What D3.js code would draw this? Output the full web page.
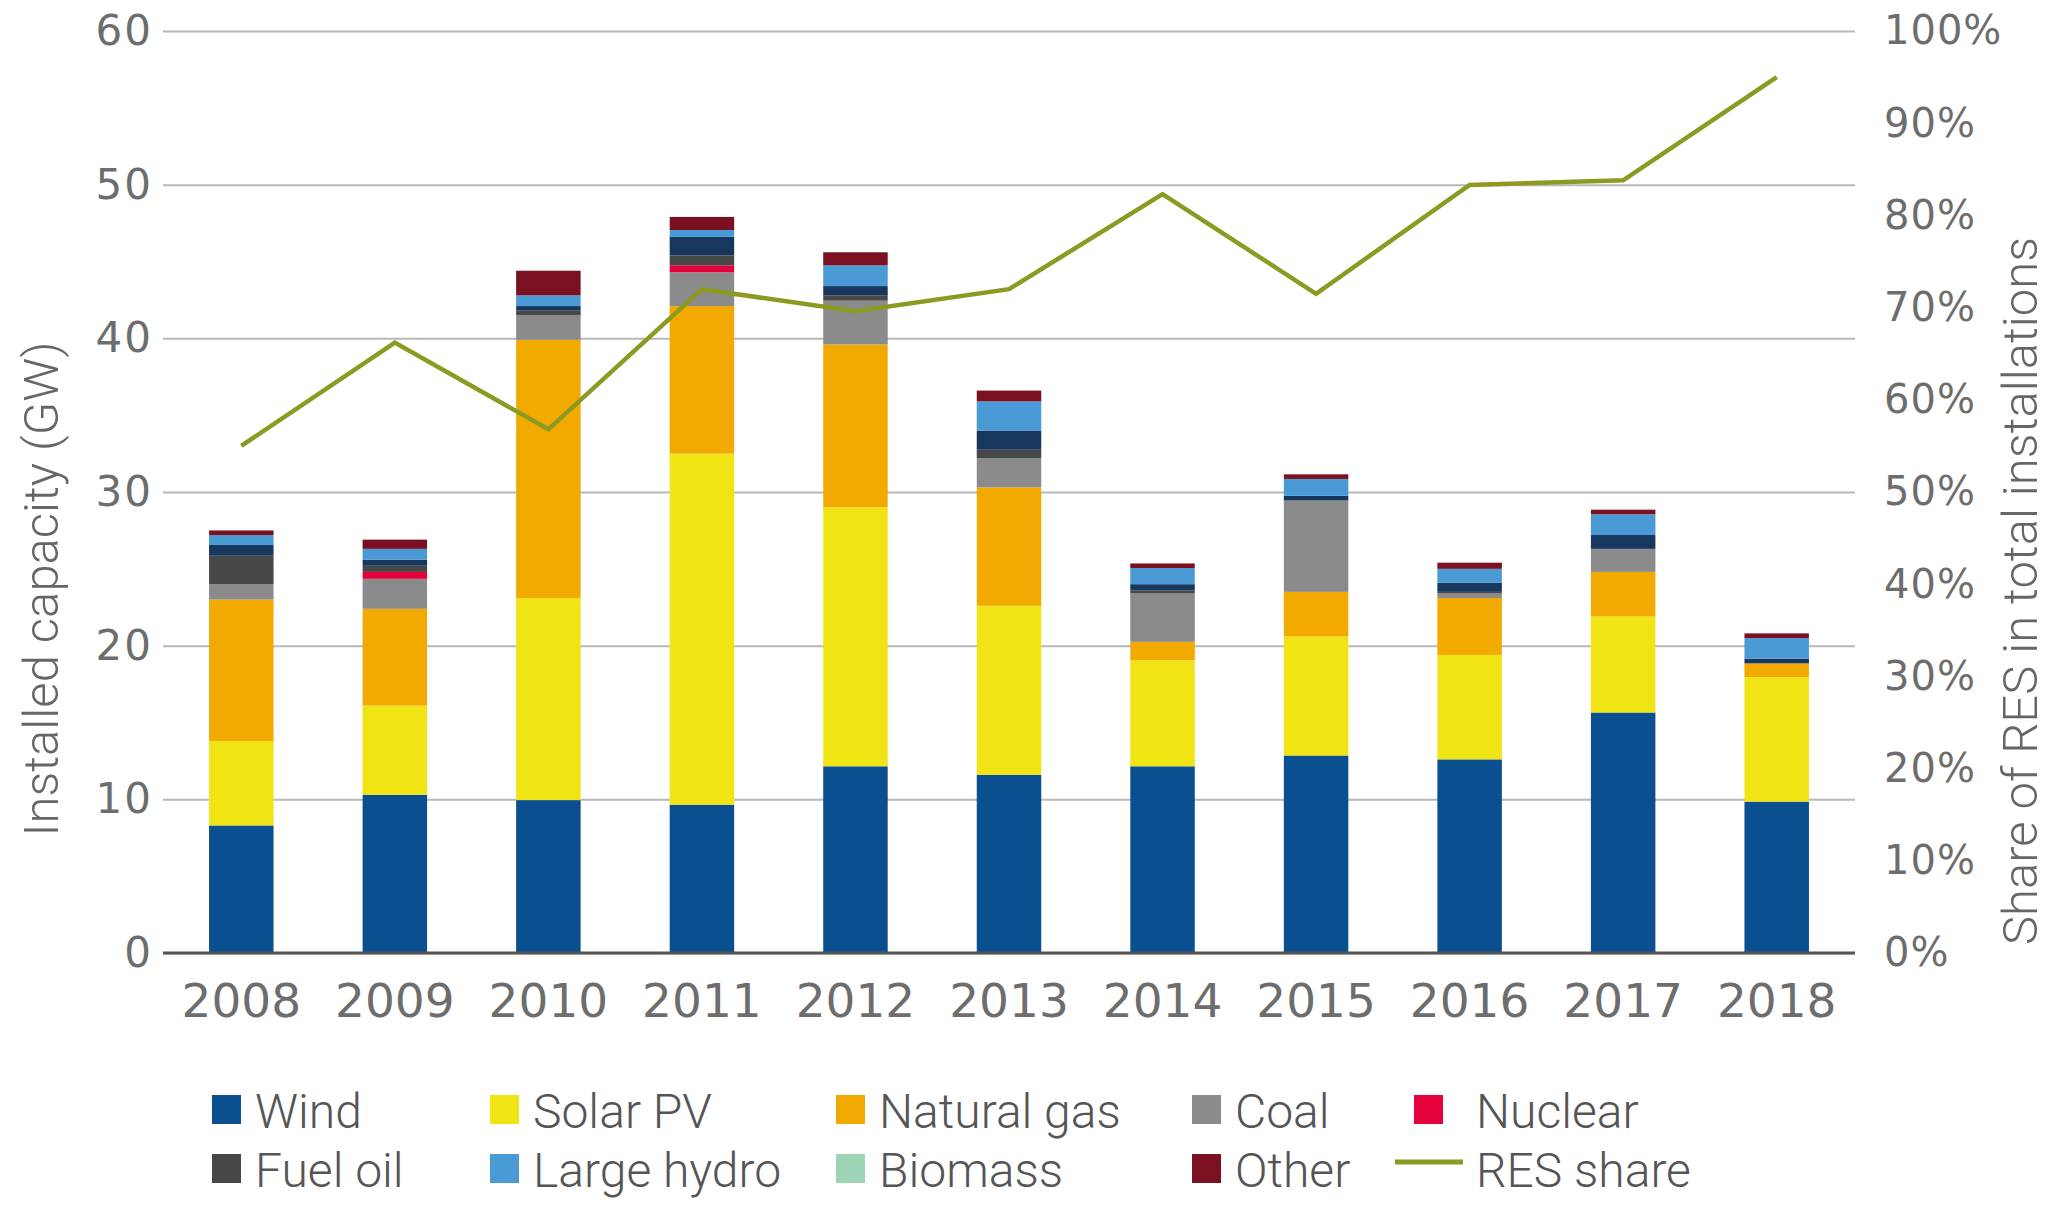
<!DOCTYPE html>
<html>
<head>
<meta charset="utf-8">
<script src="https://cdn.jsdelivr.net/npm/d3@7"></script>
<style>
  body { margin: 0; background: #fff; }
  svg { display: block; }
</style>
</head>
<body>
<div id="chart"></div>
<script>
// Years on the x axis
const years = ["2008", "2009", "2010", "2011", "2012", "2013", "2014", "2015", "2016", "2017", "2018"];

// Installed capacity per technology, GW
const wind    = [8.3, 10.3, 9.95, 9.65, 12.15, 11.6, 12.15, 12.85, 12.6, 15.65, 9.85];
const solarPV = [5.5, 5.8, 13.15, 22.85, 16.85, 11.0, 6.9, 7.75, 6.8, 6.25, 8.1];
const natGas  = [9.2, 6.3, 16.8, 9.6, 10.6, 7.7, 1.2, 2.9, 3.7, 2.9, 0.9];
const coal    = [1.0, 1.95, 1.6, 2.2, 2.85, 1.9, 3.15, 5.95, 0.3, 1.5, 0];
const nuclear = [0, 0.45, 0, 0.45, 0, 0, 0, 0, 0, 0, 0];
const fuelOil = [1.85, 0.4, 0.3, 0.65, 0.35, 0.55, 0.2, 0, 0.1, 0, 0];
const biomass = [0.7, 0.4, 0.3, 1.2, 0.6, 1.25, 0.4, 0.3, 0.6, 0.9, 0.3];
const hydro   = [0.65, 0.7, 0.7, 0.45, 1.35, 1.9, 1.05, 1.1, 0.9, 1.35, 1.35];
const other   = [0.3, 0.6, 1.6, 0.85, 0.85, 0.7, 0.3, 0.3, 0.4, 0.3, 0.3];

// RES share in total installations, %
const resShare = [55.0, 66.2, 56.8, 72.0, 69.6, 72.0, 82.3, 71.5, 83.3, 83.8, 95.0];

const leftTicks = [0, 10, 20, 30, 40, 50, 60];
const rightTicks = [0, 10, 20, 30, 40, 50, 60, 70, 80, 90, 100];

// stacking order, bottom to top
const series = [
  { key: "Wind", values: wind, color: "#0a4f8f" },
  { key: "Solar PV", values: solarPV, color: "#f1e414" },
  { key: "Natural gas", values: natGas, color: "#f2a900" },
  { key: "Coal", values: coal, color: "#8b8b8b" },
  { key: "Nuclear", values: nuclear, color: "#e4003b" },
  { key: "Fuel oil", values: fuelOil, color: "#474747" },
  { key: "Biomass", values: biomass, color: "#17375e" },
  { key: "Large hydro", values: hydro, color: "#4a9ad6" },
  { key: "Other", values: other, color: "#7a1020" }
];

// legend rows as shown under the chart
const legendItems = [
  [{ name: "Wind", color: "#0a4f8f", x: 212 }, { name: "Solar PV", color: "#f1e414", x: 490 },
   { name: "Natural gas", color: "#f2a900", x: 836 }, { name: "Coal", color: "#8b8b8b", x: 1192 },
   { name: "Nuclear", color: "#e4003b", x: 1414, tx: 1476 }],
  [{ name: "Fuel oil", color: "#474747", x: 212 }, { name: "Large hydro", color: "#4a9ad6", x: 490 },
   { name: "Biomass", color: "#9dd4b5", x: 836 }, { name: "Other", color: "#7a1020", x: 1192 },
   { name: "RES share", color: "#8c9a22", x: 1395, tx: 1476, line: true }]
];

const W = 2048, H = 1205;
const plot = { left: 163, right: 1855, top: 31, bottom: 953 };

const svg = d3.select("#chart").append("svg")
    .attr("width", W)
    .attr("height", H)
    .style("background", "#fff");

const table = years.map((yr, i) => {
  const row = { year: yr };
  series.forEach(s => { row[s.key] = s.values[i]; });
  return row;
});

const x = d3.scaleBand()
    .domain(years)
    .range([plot.left, plot.right])
    .paddingInner(0.58)
    .paddingOuter(0.3);

const y = d3.scaleLinear().domain([0, 60]).range([plot.bottom, plot.top]);
const yR = d3.scaleLinear().domain([0, 100]).range([plot.bottom, plot.top]);

// gridlines + left labels
const yAxis = svg.append("g")
    .attr("transform", `translate(${plot.left},0)`)
    .call(d3.axisLeft(y).tickValues(leftTicks).tickSize(-(plot.right - plot.left)).tickPadding(10));
yAxis.select(".domain").remove();
yAxis.selectAll(".tick line").attr("stroke", "#b8b8b8").attr("stroke-width", 2);
yAxis.selectAll(".tick text")
    .attr("fill", "#6d6d6d")
    .style("font-family", "DejaVu Sans")
    .style("font-size", "42px")
    .style("letter-spacing", "2px");

// right percentage labels
const yAxisR = svg.append("g")
    .attr("transform", `translate(${plot.right + 26},0)`)
    .call(d3.axisRight(yR).tickValues(rightTicks).tickSize(0).tickFormat(d => d + "%"));
yAxisR.select(".domain").remove();
yAxisR.selectAll(".tick text")
    .attr("fill", "#6d6d6d")
    .style("font-family", "DejaVu Sans")
    .style("font-size", "40px")
    .style("letter-spacing", "1px");

// stacked bars
const stacked = d3.stack().keys(series.map(s => s.key))(table);
const colorOf = d3.scaleOrdinal().domain(series.map(s => s.key)).range(series.map(s => s.color));

svg.append("g").selectAll("g")
  .data(stacked)
  .join("g")
    .attr("fill", d => colorOf(d.key))
  .selectAll("rect")
  .data(d => d)
  .join("rect")
    .attr("x", d => x(d.data.year))
    .attr("width", x.bandwidth())
    .attr("y", d => y(d[1]))
    .attr("height", d => Math.max(0, y(d[0]) - y(d[1])));

// baseline
svg.append("line")
    .attr("x1", plot.left).attr("x2", plot.right)
    .attr("y1", y(0)).attr("y2", y(0))
    .attr("stroke", "#555").attr("stroke-width", 3);

// x labels
const xAxis = svg.append("g")
    .attr("transform", `translate(0,${plot.bottom})`)
    .call(d3.axisBottom(x).tickSize(0).tickPadding(31));
xAxis.select(".domain").remove();
xAxis.selectAll(".tick text")
    .attr("fill", "#6d6d6d")
    .style("font-family", "DejaVu Sans")
    .style("font-size", "47px");

// RES share line
const line = d3.line()
    .x((d, i) => x(years[i]) + x.bandwidth() / 2)
    .y(d => yR(d));

svg.append("path")
    .datum(resShare)
    .attr("d", line)
    .attr("fill", "none")
    .attr("stroke", "#8c9a22")
    .attr("stroke-width", 4.5)
    .attr("stroke-linejoin", "miter");

// axis titles
svg.append("text")
    .attr("transform", `translate(58,589) rotate(-90)`)
    .attr("text-anchor", "middle")
    .attr("fill", "#666")
    .style("font-family", "Roboto")
    .style("font-weight", 300)
    .style("font-size", "49px")
    .text("Installed capacity (GW)");

svg.append("text")
    .attr("transform", `translate(2037,591) rotate(-90)`)
    .attr("text-anchor", "middle")
    .attr("fill", "#666")
    .style("font-family", "Roboto")
    .style("font-weight", 300)
    .style("font-size", "49px")
    .text("Share of RES in total installations");

// legend
const rowY = [1111, 1170];
legendItems.forEach((row, r) => {
  const g = svg.append("g");
  row.forEach(item => {
    if (item.line) {
      g.append("line")
          .attr("x1", item.x).attr("x2", item.x + 68)
          .attr("y1", rowY[r] - 8).attr("y2", rowY[r] - 8)
          .attr("stroke", item.color).attr("stroke-width", 5);
    } else {
      g.append("rect")
          .attr("x", item.x).attr("y", rowY[r] - 16)
          .attr("width", 29).attr("height", 29)
          .attr("fill", item.color);
    }
    g.append("text")
        .attr("x", item.tx || item.x + 43)
        .attr("y", rowY[r])
        .attr("dy", "0.35em")
        .attr("fill", "#555")
        .style("font-family", "Roboto")
        .style("font-weight", 300)
        .style("font-size", "48px")
        .text(item.name);
  });
});
</script>
</body>
</html>
